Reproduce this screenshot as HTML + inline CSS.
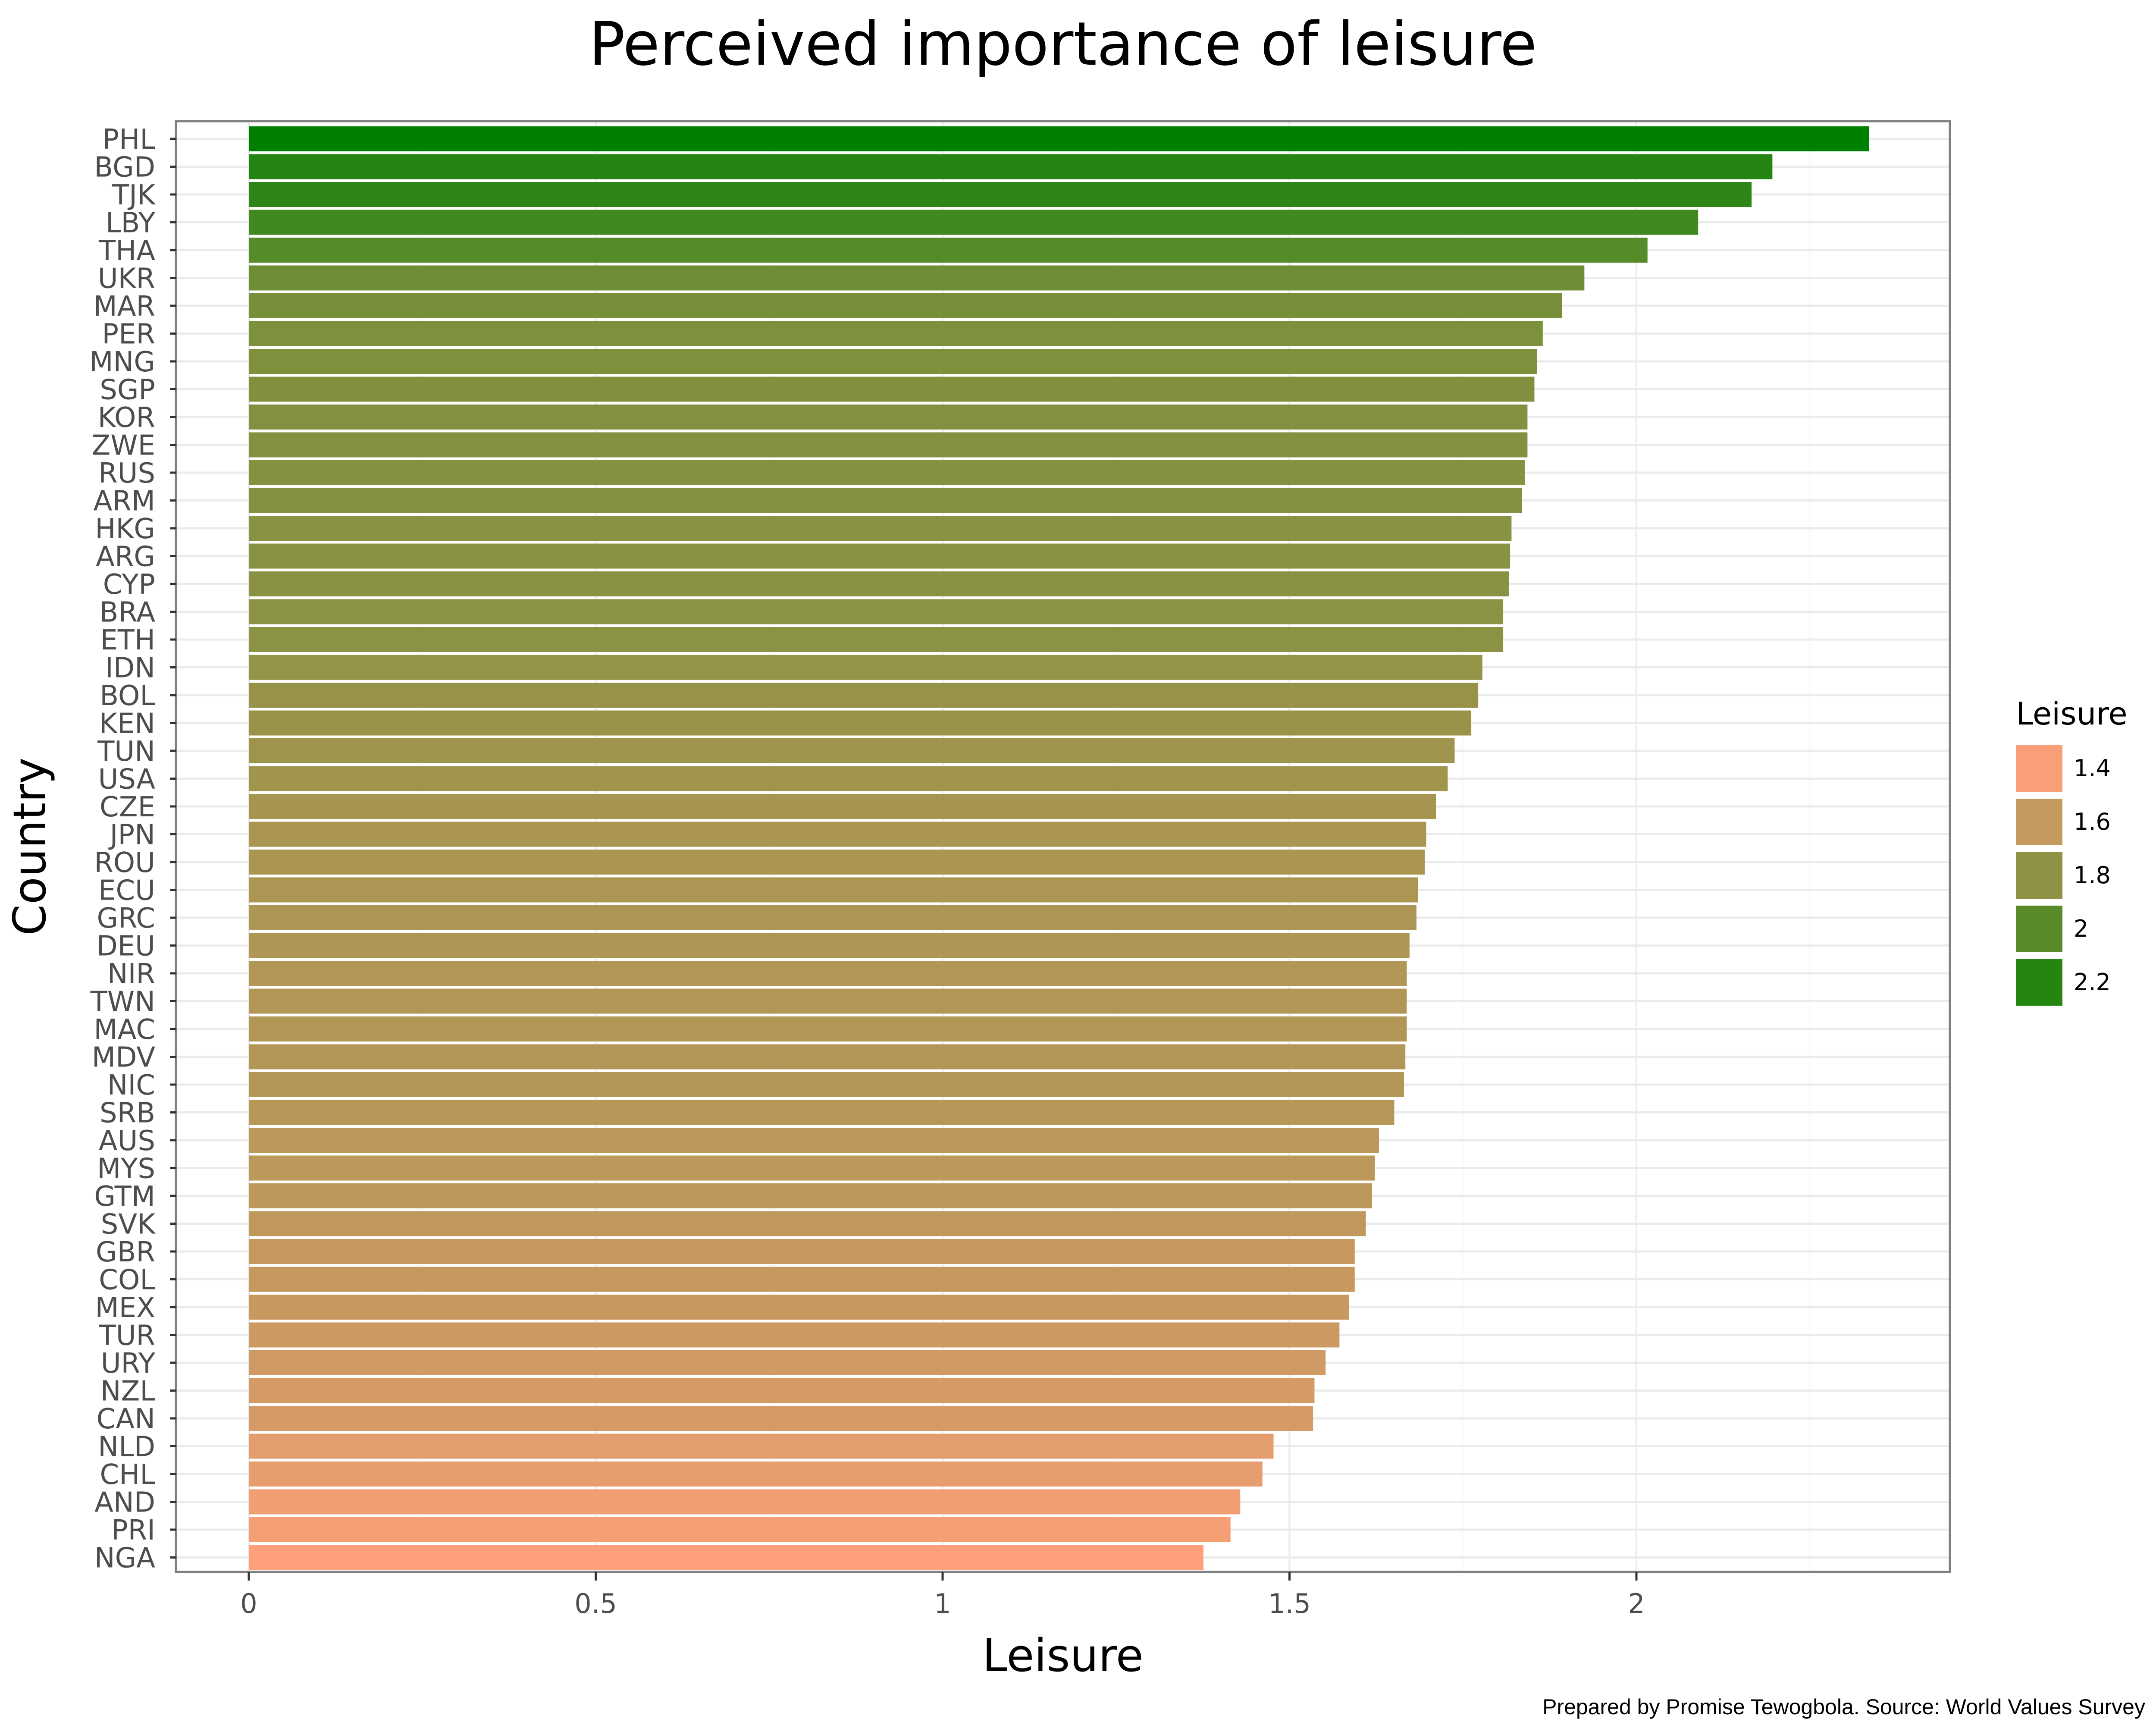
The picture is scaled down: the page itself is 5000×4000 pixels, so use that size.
<!DOCTYPE html>
<html><head><meta charset="utf-8"><style>
html,body{margin:0;padding:0;background:#fff}
svg{display:block}
</style></head><body>
<svg id="chart" width="5000" height="4000" xmlns="http://www.w3.org/2000/svg" font-family="'DejaVu Sans', sans-serif">
<rect width="5000" height="4000" fill="#fff"/>
<text x="2465" y="150" font-size="139" text-anchor="middle" fill="#000">Perceived importance of leisure</text>
<g id="grid"></g>
<g id="bars"></g>
<rect x="408" y="281" width="4114" height="3364" fill="none" stroke="#7f7f7f" stroke-width="5"/>
<g id="axes"></g>
<text x="2465" y="3875" font-size="104" text-anchor="middle" fill="#000">Leisure</text>
<text transform="translate(105,1963) rotate(-90)" font-size="104" text-anchor="middle" fill="#000">Country</text>
<g id="legend"></g>
<text x="4975" y="3975" font-size="50" text-anchor="end" fill="#000" font-family="'Liberation Sans', sans-serif">Prepared by Promise Tewogbola. Source: World Values Survey</text>
</svg>
<script>
const countries = ["PHL","BGD","TJK","LBY","THA","UKR","MAR","PER","MNG","SGP","KOR","ZWE","RUS","ARM","HKG","ARG","CYP","BRA","ETH","IDN","BOL","KEN","TUN","USA","CZE","JPN","ROU","ECU","GRC","DEU","NIR","TWN","MAC","MDV","NIC","SRB","AUS","MYS","GTM","SVK","GBR","COL","MEX","TUR","URY","NZL","CAN","NLD","CHL","AND","PRI","NGA"];
const leisure = [2.335,2.196,2.166,2.089,2.016,1.925,1.893,1.865,1.857,1.853,1.843,1.843,1.839,1.835,1.820,1.818,1.816,1.808,1.808,1.778,1.772,1.762,1.738,1.728,1.711,1.697,1.695,1.685,1.683,1.673,1.669,1.669,1.669,1.667,1.665,1.651,1.629,1.623,1.619,1.610,1.594,1.594,1.586,1.572,1.552,1.536,1.534,1.477,1.461,1.429,1.415,1.376];
const xTicks = [0,0.5,1,1.5,2];
const xTickLabels = ["0","0.5","1","1.5","2"];
const legendValues = [1.4,1.6,1.8,2,2.2];
const legendLabels = ["1.4","1.6","1.8","2","2.2"];

const NS="http://www.w3.org/2000/svg";
const X0=577, UNIT=1609, Y0=322, STEP=64.5, BARH=58;
const xs=v=>X0+v*UNIT;
const ys=i=>Y0+i*STEP;
const vmin=Math.min(...leisure), vmax=Math.max(...leisure);
const low=[255,160,122], high=[0,128,0];
function color(v){let t=(v-vmin)/(vmax-vmin);t=Math.max(0,Math.min(1,t));
  const c=low.map((l,k)=>Math.round(l+(high[k]-l)*t));return `rgb(${c[0]},${c[1]},${c[2]})`;}
function mk(tag,attrs,parent){const e=document.createElementNS(NS,tag);for(const k in attrs)e.setAttribute(k,attrs[k]);parent.appendChild(e);return e;}
const grid=document.getElementById('grid'),bars=document.getElementById('bars'),axes=document.getElementById('axes'),legend=document.getElementById('legend');
for(let i=0;i<xTicks.length;i++){const m=xTicks[i]+0.25;const x=xs(m);if(x<4520){const l=mk('line',{x1:x,x2:x,y1:281,y2:3645,stroke:'#f5f5f5','stroke-width':2},grid);

}}
xTicks.forEach(t=>{const l=mk('line',{x1:xs(t),x2:xs(t),y1:281,y2:3645,stroke:'#ebebeb','stroke-width':4},grid);

});
countries.forEach((c,i)=>{const l=mk('line',{x1:408,x2:4522,y1:ys(i),y2:ys(i),stroke:'#ebebeb','stroke-width':5},grid);

});
countries.forEach((c,i)=>{const v=leisure[i];
const r=mk('rect',{x:xs(0),y:ys(i)-BARH/2,width:xs(v)-xs(0),height:BARH,fill:color(v)},bars);


const tk=mk('line',{x1:394,x2:408,y1:ys(i),y2:ys(i),stroke:'#333','stroke-width':5},axes);


const tx=mk('text',{x:360,y:ys(i)+23,'font-size':64,'text-anchor':'end',fill:'#4d4d4d'},axes);tx.textContent=c;

});
xTicks.forEach((t,i)=>{const tk=mk('line',{x1:xs(t),x2:xs(t),y1:3645,y2:3665,stroke:'#333','stroke-width':5},axes);


const tx=mk('text',{x:xs(t),y:3740,'font-size':62,'text-anchor':'middle',fill:'#4d4d4d'},axes);tx.textContent=xTickLabels[i];

});
const lt=mk('text',{x:4675,y:1680,'font-size':72,fill:'#000'},legend);lt.textContent='Leisure';


legendValues.forEach((v,i)=>{const y=1728+i*124;
const r=mk('rect',{x:4675,y:y,width:108,height:108,fill:color(v)},legend);


const t=mk('text',{x:4809,y:y+72,'font-size':54,fill:'#000'},legend);t.textContent=legendLabels[i];

});
</script>
</body></html>
